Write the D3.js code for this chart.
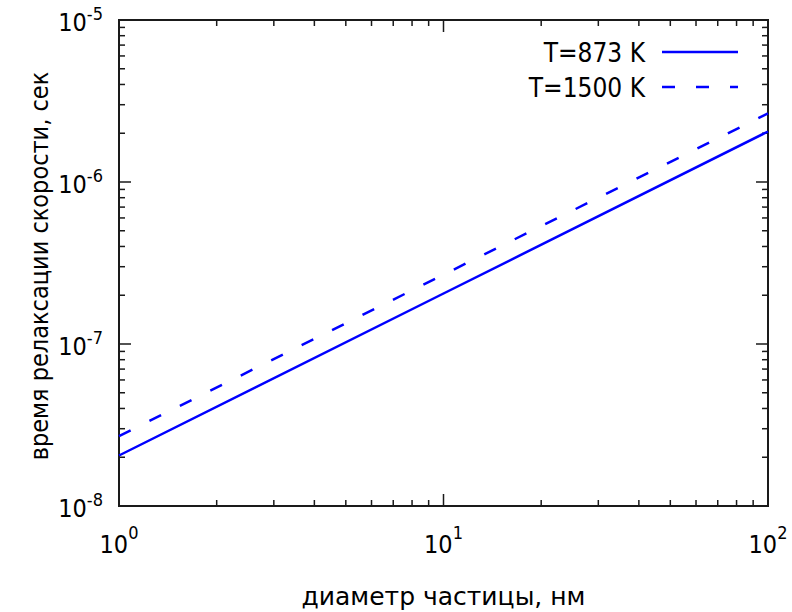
<!DOCTYPE html>
<html>
<head>
<meta charset="utf-8">
<script src="https://cdn.jsdelivr.net/npm/d3@7"></script>
<style>
  body { margin: 0; background: #fff; }
  text { font-family: "DejaVu Sans", sans-serif; font-stretch: condensed; fill: #000; }
</style>
</head>
<body>
<div class="canvas"></div>
<script>
// data
const diameters = [1, 10, 100];
const tau873 = [2.05e-8, 2.05e-7, 2.05e-6];
const tau1500 = [2.7e-8, 2.68e-7, 2.65e-6];
const seriesNames = ['T=873 K', 'T=1500 K'];
const xTickValues = [1, 10, 100];
const xTickExp = ['0', '1', '2'];
const yTickValues = [1e-8, 1e-7, 1e-6, 1e-5];
const yTickExp = ['-8', '-7', '-6', '-5'];

const dims = { width: 792, height: 612 };
const plot = { left: 119, right: 768, top: 20, bottom: 506 };

const svg = d3.select('.canvas')
    .append('svg')
    .attr('width', dims.width)
    .attr('height', dims.height);

const x = d3.scaleLog().domain([1, 100]).range([plot.left, plot.right]);
const y = d3.scaleLog().domain([1e-8, 1e-5]).range([plot.bottom, plot.top]);

const axisColor = '#1a1a1a';
const isMajor = v => Math.abs(Math.log10(v) - Math.round(Math.log10(v))) < 1e-9;

// ticks, inward on all four sides
const ticks = svg.append('g').attr('stroke', axisColor).attr('stroke-width', 1.5);
x.ticks().forEach(v => {
    const len = isMajor(v) ? 12 : 6;
    ticks.append('line').attr('x1', x(v)).attr('x2', x(v))
        .attr('y1', plot.bottom).attr('y2', plot.bottom - len);
    ticks.append('line').attr('x1', x(v)).attr('x2', x(v))
        .attr('y1', plot.top).attr('y2', plot.top + len);
});
y.ticks().forEach(v => {
    const len = isMajor(v) ? 12 : 6;
    ticks.append('line').attr('y1', y(v)).attr('y2', y(v))
        .attr('x1', plot.left).attr('x2', plot.left + len);
    ticks.append('line').attr('y1', y(v)).attr('y2', y(v))
        .attr('x1', plot.right).attr('x2', plot.right - len);
});

// frame
svg.append('rect')
    .attr('x', plot.left).attr('y', plot.top)
    .attr('width', plot.right - plot.left)
    .attr('height', plot.bottom - plot.top)
    .attr('fill', 'none')
    .attr('stroke', axisColor)
    .attr('stroke-width', 2);

// tick labels
xTickValues.forEach((v, i) => {
    const t = svg.append('text')
        .attr('x', x(v)).attr('y', 553)
        .attr('text-anchor', 'middle')
        .style('font-size', '25px');
    t.append('tspan').text('10');
    t.append('tspan').attr('dy', -14).style('font-size', '18px').text(xTickExp[i]);
});
yTickValues.forEach((v, i) => {
    const t = svg.append('text')
        .attr('x', 103).attr('y', y(v) + 11)
        .attr('text-anchor', 'end')
        .style('font-size', '25px');
    t.append('tspan').text('10');
    t.append('tspan').attr('dy', -11).style('font-size', '18px').text(yTickExp[i]);
});

// axis titles
svg.append('text')
    .attr('x', (plot.left + plot.right) / 2).attr('y', 605)
    .attr('text-anchor', 'middle')
    .style('font-size', '25px')
    .style('font-stretch', 'normal')
    .text('диаметр частицы, нм');

svg.append('text')
    .attr('transform', `translate(48,${(plot.top + plot.bottom) / 2 + 3}) rotate(-90)`)
    .attr('text-anchor', 'middle')
    .style('font-size', '25px')
    .text('время релаксации скорости, сек');

// curves
const line = d3.line()
    .x(d => x(d[0]))
    .y(d => y(d[1]));

const series = [
    { name: seriesNames[0], values: tau873, dash: null },
    { name: seriesNames[1], values: tau1500, dash: '13,21' }
];

series.forEach((s, i) => {
    svg.append('path')
        .datum(diameters.map((d, j) => [d, s.values[j]]))
        .attr('d', line)
        .attr('fill', 'none')
        .attr('stroke', '#0000ff')
        .attr('stroke-width', 2.5)
        .attr('stroke-dasharray', s.dash);

    // legend
    const ly = 52 + i * 35;
    svg.append('text')
        .attr('x', 645).attr('y', ly + 10)
        .attr('text-anchor', 'end')
        .style('font-size', '26px')
        .text(s.name);
    svg.append('line')
        .attr('x1', 662).attr('x2', 738)
        .attr('y1', ly).attr('y2', ly)
        .attr('stroke', '#0000ff')
        .attr('stroke-width', 2.5)
        .attr('stroke-dasharray', s.dash);
});
</script>
</body>
</html>
